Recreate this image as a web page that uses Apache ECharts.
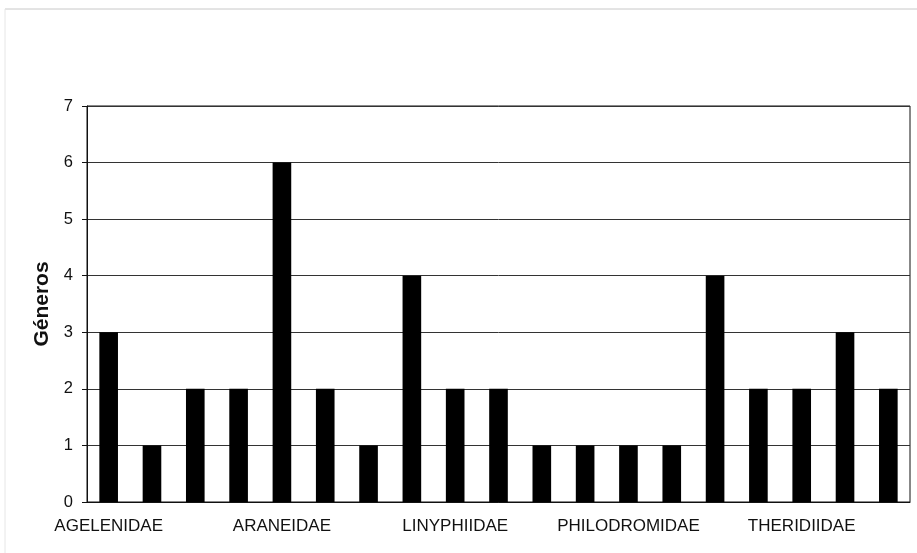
<!doctype html>
<html lang="es">
  <head>
    <meta charset="UTF-8" />
    <title>Géneros por familia</title>
    <script src="https://cdn.jsdelivr.net/npm/echarts@6/dist/echarts.min.js"></script>
    <style>
      html, body { margin: 0; padding: 0; background: #fff; }
      #chart { width: 917px; height: 553px; }
    </style>
  </head>
  <body>
    <div id="chart"></div>
    <script>
      // Families (only every 4th label is printed on the axis)
      var families = [
        'AGELENIDAE', 'AMAUROBIIDAE', 'ANTRODIAETIDAE', 'ANYPHAENIDAE',
        'ARANEIDAE', 'CLUBIONIDAE', 'DICTYNIDAE', 'GNAPHOSIDAE',
        'LINYPHIIDAE', 'LYCOSIDAE', 'MIMETIDAE', 'OXYOPIDAE',
        'PHILODROMIDAE', 'SALTICIDAE', 'TETRAGNATHIDAE', 'THERAPHOSIDAE',
        'THERIDIIDAE', 'THOMISIDAE', 'ULOBORIDAE'
      ];
      // Number of genera per family
      var generos = [3, 1, 2, 2, 6, 2, 1, 4, 2, 2, 1, 1, 1, 1, 4, 2, 2, 3, 2];
      var yTicks = [0, 1, 2, 3, 4, 5, 6, 7];

      var font = '"Liberation Sans", Arial, sans-serif';
      var myChart = echarts.init(document.getElementById('chart'), null, { renderer: 'canvas' });

      myChart.setOption({
        animation: false,
        backgroundColor: '#fff',
        graphic: [
          // faint frame of the scanned page
          { type: 'line', shape: { x1: 5, y1: 9, x2: 917, y2: 9 }, style: { stroke: '#c8c8c8', lineWidth: 1 } },
          { type: 'line', shape: { x1: 5, y1: 9, x2: 5, y2: 553 }, style: { stroke: '#e6e6e6', lineWidth: 1 } }
        ],
        grid: {
          left: 87, right: 7, top: 106, bottom: 51,
          show: true, borderColor: '#111', borderWidth: 1
        },
        xAxis: {
          type: 'category',
          data: families,
          axisLine: { lineStyle: { color: '#111', width: 1 } },
          axisTick: { show: false },
          axisLabel: {
            interval: 3, color: '#111', fontFamily: font, fontSize: 17, margin: 16
          }
        },
        yAxis: {
          type: 'value',
          min: yTicks[0], max: yTicks[yTicks.length - 1], interval: 1,
          name: 'Géneros',
          nameLocation: 'middle',
          nameGap: 31,
          nameTextStyle: { fontFamily: font, fontSize: 21, fontWeight: 'bold', color: '#111' },
          axisLine: { show: true, lineStyle: { color: '#111', width: 1 } },
          axisTick: { show: true, length: 5, lineStyle: { color: '#111' } },
          axisLabel: { color: '#111', fontFamily: font, fontSize: 16.5, margin: 14 },
          splitLine: { lineStyle: { color: '#333', width: 1 } }
        },
        series: [{
          type: 'bar',
          data: generos,
          barWidth: '43%',
          itemStyle: { color: '#000' }
        }]
      });
    </script>
  </body>
</html>
